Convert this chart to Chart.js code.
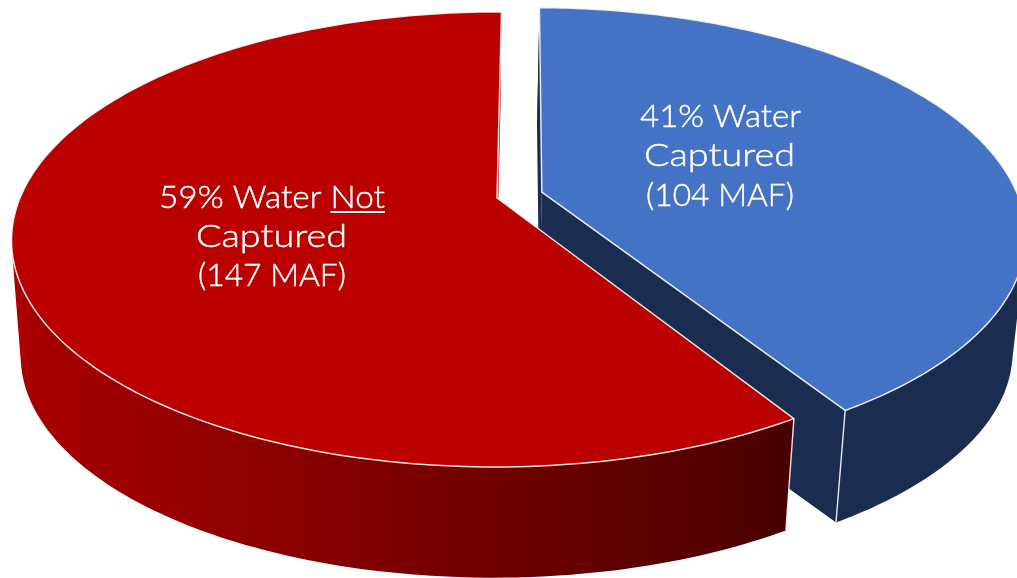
<!DOCTYPE html>
<html>
<head>
<meta charset="utf-8">
<style>html,body{margin:0;padding:0;background:#fff}canvas{display:block}</style>
<script src="https://cdn.jsdelivr.net/npm/chart.js@4"></script>
</head>
<body>
<canvas id="c" width="1017" height="578"></canvas>
<script>
const categories = ['Water Captured', 'Water Not Captured'];
const sharePercent = [41, 59];
const volumeMAF = [104, 147];
const sliceColors = ['#4472C4', '#BB0000'];
const explode = [0.098, 0];

// Perspective of the tilted disc on the page
const VIEW = { ax: 497, ay: 198, a: 477, b: 220, k: 0.182, c: 2 };
// Extrusion of the pie: the lower rim is the upper rim scaled toward a far vanishing point
const DEPTH = { vx: 430, vy: 5500, s: 0.978 };

function top3d(u, v) {
  const w = 1 - VIEW.k * v;
  return [VIEW.ax + (VIEW.a * u - VIEW.c * v) / w, VIEW.ay + VIEW.b * v / w];
}
function low3d(p) {
  return [DEPTH.vx + DEPTH.s * (p[0] - DEPTH.vx), DEPTH.s * p[1] + (1 - DEPTH.s) * DEPTH.vy];
}
function rim(el, ex) {
  const mid = (el.startAngle + el.endAngle) / 2;
  const ox = Math.cos(mid) * ex, oy = Math.sin(mid) * ex;
  const pts = [];
  const n = 200;
  for (let i = 0; i <= n; i++) {
    const t = el.startAngle + (el.endAngle - el.startAngle) * i / n;
    pts.push(top3d(ox + Math.cos(t), oy + Math.sin(t)));
  }
  return { apex: top3d(ox, oy), pts };
}
function addPoly(ctx, pts) {
  let area = 0;
  pts.forEach((p, i) => { const q = pts[(i + 1) % pts.length]; area += p[0] * q[1] - q[0] * p[1]; });
  const list = area < 0 ? pts.slice().reverse() : pts;
  list.forEach((p, i) => i ? ctx.lineTo(p[0], p[1]) : ctx.moveTo(p[0], p[1]));
  ctx.closePath();
}
function poly(ctx, pts, fill, stroke, lw) {
  ctx.beginPath();
  addPoly(ctx, pts);
  ctx.fillStyle = fill;
  ctx.fill();
  if (stroke) { ctx.strokeStyle = stroke; ctx.lineWidth = lw; ctx.lineJoin = 'round'; ctx.stroke(); }
}
function segment(ctx, a, b, color, lw) {
  ctx.beginPath();
  ctx.moveTo(a[0], a[1]);
  ctx.lineTo(b[0], b[1]);
  ctx.strokeStyle = color;
  ctx.lineWidth = lw;
  ctx.stroke();
}

const ArcEl = Chart.ArcElement || Chart.registry.getElement('arc');
ArcEl.prototype.draw = function (ctx) {
  const idx = sliceColors.indexOf(this.options.backgroundColor);
  const { apex, pts } = rim(this, explode[idx]);
  const first = pts[0], last = pts[pts.length - 1];
  let wall;
  if (idx === 0) {
    wall = '#1A2C50';
  } else {
    wall = ctx.createLinearGradient(12, 0, 795, 0);
    wall.addColorStop(0, '#AA0000');
    wall.addColorStop(0.5, '#7C0000');
    wall.addColorStop(1, '#480000');
  }
  const line = 'rgba(255,255,255,0.88)';
  // cut faces
  poly(ctx, [apex, first, low3d(first), low3d(apex)], idx === 0 ? wall : '#BB0000');
  poly(ctx, [apex, last, low3d(last), low3d(apex)], idx === 0 ? wall : '#BB0000');
  // outer wall as a sweep of the rim
  ctx.beginPath();
  for (let i = 0; i < pts.length - 1; i++) {
    addPoly(ctx, [pts[i], pts[i + 1], low3d(pts[i + 1]), low3d(pts[i])]);
  }
  ctx.fillStyle = wall;
  ctx.fill('nonzero');
  // vertical edge at the front corner of each slice
  const corner = idx === 0 ? last : first;
  segment(ctx, corner, low3d(corner), line, 1.4);
  poly(ctx, [apex].concat(pts), this.options.backgroundColor, line, 1.5);
};

const labelPlugin = {
  id: 'sliceLabels',
  afterDatasetsDraw(chart) {
    const ctx = chart.ctx;
    ctx.save();
    ctx.font = '300 32px Lato, "Open Sans", sans-serif';
    ctx.fillStyle = '#fff';
    ctx.strokeStyle = '#fff';
    ctx.lineWidth = 0.45;
    ctx.lineJoin = 'round';
    ctx.textBaseline = 'alphabetic';
    ctx.textAlign = 'left';
    const put = (s, x, y) => { ctx.fillText(s, x, y); ctx.strokeText(s, x, y); };
    // one line of text, centred on x and stretched to the given width
    const fit = (s, x, y, width) => {
      const w = ctx.measureText(s).width;
      ctx.save();
      ctx.translate(x - width / 2, y);
      ctx.scale(width / w, 1);
      put(s, 0, 0);
      ctx.restore();
    };
    fit(sharePercent[0] + '% Water', 720.5, 127, 161);
    fit('Captured', 719.5, 166, 151);
    fit('(' + volumeMAF[0] + ' MAF)', 720, 206, 148);

    const a = sharePercent[1] + '% Water ', b = 'Not';
    const wa = ctx.measureText(a).width, wb = ctx.measureText(b).width;
    const total = 226, sx = total / (wa + wb), x0 = 272 - total / 2;
    ctx.save();
    ctx.translate(x0, 208);
    ctx.scale(sx, 1);
    put(a, 0, 0);
    put(b, wa, 0);
    ctx.fillRect(wa, 3, wb, 2);
    ctx.restore();
    fit('Captured', 271.5, 247, 151);
    fit('(' + volumeMAF[1] + ' MAF)', 272, 286, 148);
    ctx.restore();
  }
};

new Chart(document.getElementById('c'), {
  type: 'pie',
  data: {
    labels: categories,
    datasets: [{ data: sharePercent, backgroundColor: sliceColors, borderWidth: 0 }]
  },
  options: {
    responsive: false,
    animation: false,
    rotation: 0.4,
    plugins: { legend: { display: false }, tooltip: { enabled: false } },
    events: []
  },
  plugins: [labelPlugin]
});
</script>
</body>
</html>
